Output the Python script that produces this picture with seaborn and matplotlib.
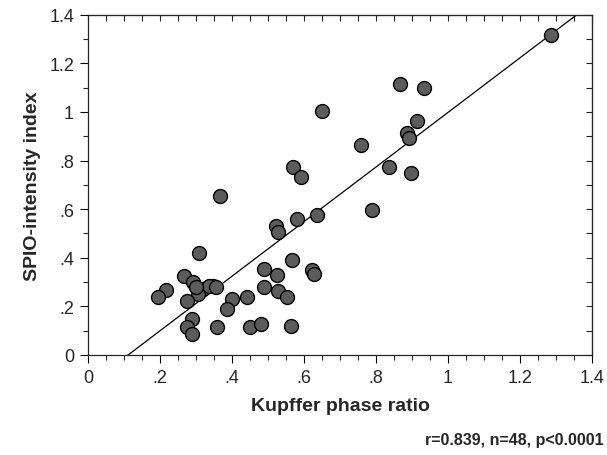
import matplotlib
matplotlib.use("Agg")
import matplotlib.pyplot as plt
import seaborn as sns
import pandas as pd
import numpy as np
from matplotlib.ticker import MultipleLocator, FixedLocator

kupffer_ratio = [1.286, 0.867, 0.934, 0.650, 0.915, 0.887, 0.892, 0.758, 0.837, 0.896,
                 0.569, 0.593, 0.788, 0.635, 0.367, 0.521, 0.528, 0.581, 0.308, 0.568,
                 0.622, 0.628, 0.489, 0.524, 0.489, 0.529, 0.554, 0.441, 0.399, 0.385,
                 0.357, 0.450, 0.480, 0.563, 0.216, 0.195, 0.268, 0.293, 0.320, 0.348,
                 0.306, 0.274, 0.288, 0.274, 0.288, 0.335, 0.300, 0.355]
spio_index = [1.317, 1.113, 1.097, 1.003, 0.961, 0.914, 0.892, 0.866, 0.772, 0.750,
              0.772, 0.734, 0.597, 0.577, 0.653, 0.532, 0.505, 0.560, 0.420, 0.391,
              0.350, 0.332, 0.354, 0.328, 0.281, 0.265, 0.237, 0.237, 0.230, 0.189,
              0.114, 0.114, 0.128, 0.121, 0.269, 0.237, 0.324, 0.299, 0.272, 0.285,
              0.251, 0.224, 0.148, 0.114, 0.086, 0.285, 0.280, 0.280]

fit_slope = 1.123
fit_intercept = -0.125

tick_values = [0, 0.2, 0.4, 0.6, 0.8, 1.0, 1.2, 1.4]
tick_labels = ["0", ".2", ".4", ".6", ".8", "1", "1.2", "1.4"]
stats_text = "r=0.839, n=48, p<0.0001"

df = pd.DataFrame({"x": kupffer_ratio, "y": spio_index})

sns.set_style("ticks")
plt.rcParams["font.family"] = ["Liberation Sans", "DejaVu Sans"]

fig = plt.figure(figsize=(6.07, 4.56), dpi=100)
ax = fig.add_axes([88/607, 1-356/456, (592-88)/607, (356-15.7)/456])

line_x = np.array([0.0, 1.4])
ax.plot(line_x, fit_intercept + fit_slope*line_x, color="black", lw=0.9, zorder=1)

sns.scatterplot(data=df, x="x", y="y", ax=ax, s=100, color="#5c5c5c",
                edgecolor="black", linewidth=1.0, zorder=3)

ax.set_xlim(0, 1.4)
ax.set_ylim(0, 1.4)
ax.xaxis.set_major_locator(FixedLocator(tick_values))
ax.yaxis.set_major_locator(FixedLocator(tick_values))
ax.set_xticklabels(tick_labels)
ax.set_yticklabels(tick_labels)
ax.xaxis.set_minor_locator(MultipleLocator(0.05))
ax.yaxis.set_minor_locator(MultipleLocator(0.1))
ax.tick_params(axis="both", which="major", direction="out", length=6, width=0.8,
               labelsize=13, pad=4, color="black")
ax.tick_params(axis="both", which="minor", direction="out", length=3.5, width=0.8)
for sp in ax.spines.values():
    sp.set_visible(True)
    sp.set_linewidth(0.9)

# top / right inward ticks
axt = ax.secondary_xaxis("top")
axt.xaxis.set_major_locator(MultipleLocator(0.05))
axt.tick_params(direction="in", length=4, width=0.8, labeltop=False)
axt.set_xticklabels([])
axr = ax.secondary_yaxis("right")
axr.yaxis.set_major_locator(MultipleLocator(0.1))
axr.tick_params(direction="in", length=4, width=0.8, labelright=False)
axr.set_yticklabels([])

ax.set_xlabel("Kupffer phase ratio", fontsize=14, fontweight="bold", labelpad=8)
ax.set_ylabel("SPIO-intensity index", fontsize=14, fontweight="bold", labelpad=6)

fig.text(604/607, 1-441/456, stats_text, ha="right", va="center",
         fontsize=11.5, fontweight="bold")

fig.savefig("out.png", dpi=100)
